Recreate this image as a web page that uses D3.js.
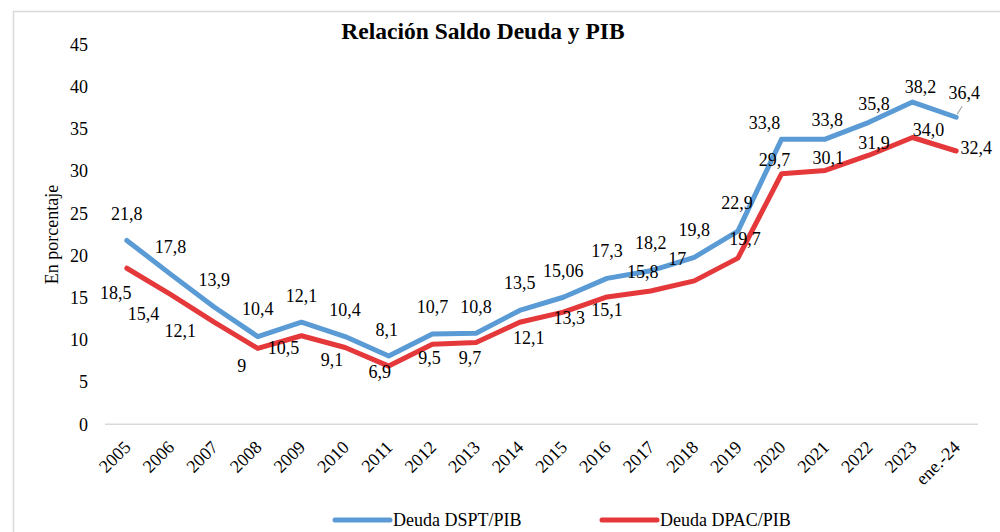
<!DOCTYPE html>
<html>
<head>
<meta charset="utf-8">
<script src="https://cdn.jsdelivr.net/npm/d3@7/dist/d3.min.js"></script>
<style>
  body { margin: 0; background: #fff; }
  svg { display: block; font-family: "Liberation Serif", "Times New Roman", serif; }
</style>
</head>
<body>
<svg id="chart" width="1000" height="532"></svg>
<script>
// Data
const years = ['2005', '2006', '2007', '2008', '2009', '2010', '2011', '2012', '2013', '2014',
  '2015', '2016', '2017', '2018', '2019', '2020', '2021', '2022', '2023', 'ene.-24'];
const dsptValues = [21.8, 17.8, 13.9, 10.4, 12.1, 10.4, 8.1, 10.7, 10.8, 13.5,
  15.06, 17.3, 18.2, 19.8, 22.9, 33.8, 33.8, 35.8, 38.2, 36.4];
const dpacValues = [18.5, 15.4, 12.1, 9, 10.5, 9.1, 6.9, 9.5, 9.7, 12.1,
  13.3, 15.1, 15.8, 17, 19.7, 29.7, 30.1, 31.9, 34.0, 32.4];
// label text as printed in the chart
const dsptLabels = ['21,8', '17,8', '13,9', '10,4', '12,1', '10,4', '8,1', '10,7', '10,8', '13,5',
  '15,06', '17,3', '18,2', '19,8', '22,9', '33,8', '33,8', '35,8', '38,2', '36,4'];
const dpacLabels = ['18,5', '15,4', '12,1', '9', '10,5', '9,1', '6,9', '9,5', '9,7', '12,1',
  '13,3', '15,1', '15,8', '17', '19,7', '29,7', '30,1', '31,9', '34,0', '32,4'];
const yTicks = [0, 5, 10, 15, 20, 25, 30, 35, 40, 45];
const seriesNames = ['Deuda DSPT/PIB', 'Deuda DPAC/PIB'];

// label nudges (px) relative to each point, as placed in the original
const dsptNudge = [[0, -27], [0, -27], [0, -27], [0, -28], [0, -27], [0, -27], [-2, -26], [0, -27], [0, -26], [0, -28],
  [0, -27], [0, -28], [0, -28], [0, -28], [-1, -28], [-17, -16], [2, -19], [5, -19], [8, -15], [8, -25]];
const dpacNudge = [[-11, 24], [-27, 19], [-34, 8], [-16, 17], [-18, 12], [-13, 12], [-9, 6], [-3, 14], [-6, 15], [9, 15],
  [6, 6], [0, 13], [-8, -19], [-17, -22], [7, -19], [-7, -14], [3, -13], [5, -13], [16, -8], [20, -3]];

const blue = '#5B9BD5';
const red = '#E5383B';

const svg = d3.select('#chart');

// outer chart frame
svg.append('rect')
  .attr('x', 13.5).attr('y', 11.5)
  .attr('width', 1000).attr('height', 540)
  .attr('fill', 'none')
  .attr('stroke', '#D9D9D9')
  .attr('stroke-width', 1.5);

const plotLeft = 105, plotRight = 978, plotTop = 44.7, plotBottom = 424.3;

const x = d3.scaleBand().domain(years).range([plotLeft, plotRight]).padding(0);
const px = d => x(d) + x.bandwidth() / 2;
const y = d3.scaleLinear().domain([0, 45]).range([plotBottom, plotTop]);

// title
svg.append('text')
  .attr('x', 483).attr('y', 39)
  .attr('text-anchor', 'middle')
  .style('font-size', '23.5px')
  .style('font-weight', 'bold')
  .text('Relación Saldo Deuda y PIB');

// y axis (labels only)
const yAxis = svg.append('g')
  .attr('transform', `translate(${plotLeft},0)`)
  .call(d3.axisLeft(y).tickValues(yTicks).tickSize(0).tickPadding(17));
yAxis.select('.domain').remove();
yAxis.selectAll('text')
  .style('font-size', '18px')
  .style('font-family', '"Liberation Serif", serif')
  .attr('fill', '#000');

// y axis title
svg.append('text')
  .attr('transform', `translate(58,${(plotTop + plotBottom) / 2}) rotate(-90)`)
  .attr('text-anchor', 'middle')
  .style('font-size', '18px')
  .text('En porcentaje');

// x axis
const xAxis = svg.append('g')
  .attr('transform', `translate(0,${plotBottom})`)
  .call(d3.axisBottom(x).tickSize(0));
xAxis.select('.domain').remove();
xAxis.selectAll('text')
  .style('font-size', '18px')
  .style('font-family', '"Liberation Serif", serif')
  .attr('fill', '#000')
  .attr('text-anchor', 'end')
  .attr('dy', null)
  .attr('y', 0)
  .attr('transform', 'translate(5,24) rotate(-45)');

svg.append('line')
  .attr('x1', plotLeft).attr('x2', plotRight)
  .attr('y1', plotBottom).attr('y2', plotBottom)
  .attr('stroke', '#D9D9D9')
  .attr('stroke-width', 1.5);

// lines
const line = d3.line()
  .x((d, i) => px(years[i]))
  .y(d => y(d));

svg.append('path')
  .datum(dsptValues)
  .attr('fill', 'none')
  .attr('stroke', blue)
  .attr('stroke-width', 5)
  .attr('stroke-linejoin', 'round')
  .attr('stroke-linecap', 'round')
  .attr('d', line);

svg.append('path')
  .datum(dpacValues)
  .attr('fill', 'none')
  .attr('stroke', red)
  .attr('stroke-width', 5)
  .attr('stroke-linejoin', 'round')
  .attr('stroke-linecap', 'round')
  .attr('d', line);

// leader line for the last DSPT label
const lastI = years.length - 1;
svg.append('line')
  .attr('x1', px(years[lastI]) + 1).attr('y1', y(dsptValues[lastI]) - 3)
  .attr('x2', px(years[lastI]) + 6).attr('y2', y(dsptValues[lastI]) - 11)
  .attr('stroke', '#A6A6A6')
  .attr('stroke-width', 1.2);

// data labels
function addLabels(values, labels, nudge) {
  svg.append('g')
    .selectAll('text')
    .data(values)
    .enter()
    .append('text')
    .attr('x', (d, i) => px(years[i]) + nudge[i][0])
    .attr('y', (d, i) => y(d) + nudge[i][1])
    .attr('dy', '0.35em')
    .attr('text-anchor', 'middle')
    .style('font-size', '18px')
    .text((d, i) => labels[i]);
}
addLabels(dsptValues, dsptLabels, dsptNudge);
addLabels(dpacValues, dpacLabels, dpacNudge);

// legend
const legend = svg.append('g');
const legendX = [335, 602];
[blue, red].forEach((c, i) => {
  legend.append('line')
    .attr('x1', legendX[i]).attr('x2', legendX[i] + 55)
    .attr('y1', 520).attr('y2', 520)
    .attr('stroke', c)
    .attr('stroke-width', 5)
    .attr('stroke-linecap', 'round');
  legend.append('text')
    .attr('x', legendX[i] + 58)
    .attr('y', 526)
    .style('font-size', '18px')
    .text(seriesNames[i]);
});
</script>
</body>
</html>
